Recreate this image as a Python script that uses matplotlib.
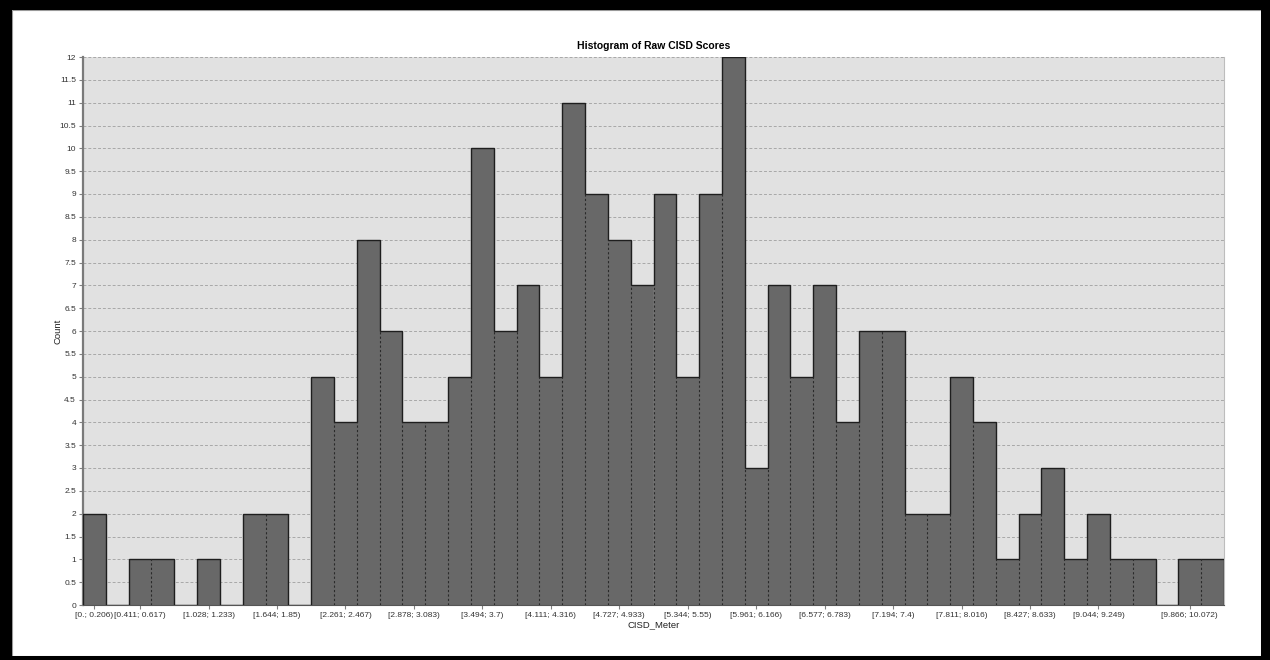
import numpy as np
import matplotlib
matplotlib.use("Agg")
import matplotlib.pyplot as plt
from matplotlib.patches import Rectangle

plt.rcParams['font.family'] = ['Liberation Sans', 'DejaVu Sans']

# histogram counts per bin (50 bins of equal width starting at 0)
counts = [2, 0, 1, 1, 0, 1, 0, 2, 2, 0,
          5, 4, 8, 6, 4, 4, 5, 10, 6, 7,
          5, 11, 9, 8, 7, 9, 5, 9, 12, 3,
          7, 5, 7, 4, 6, 6, 2, 2, 5, 4,
          1, 2, 3, 1, 2, 1, 1, 0, 1, 1]
bin_start = 0.0
bin_width = 10.072 / 49

# labelled bins and their interval text
label_bins = [0, 2, 5, 8, 11, 14, 17, 20, 23, 26, 29, 32, 35, 38, 41, 44, 48]
label_text = ["[0.; 0.206)", "[0.411; 0.617)", "[1.028; 1.233)", "[1.644; 1.85)",
              "[2.261; 2.467)", "[2.878; 3.083)", "[3.494; 3.7)", "[4.111; 4.316)",
              "[4.727; 4.933)", "[5.344; 5.55)", "[5.961; 6.166)", "[6.577; 6.783)",
              "[7.194; 7.4)", "[7.811; 8.016)", "[8.427; 8.633)", "[9.044; 9.249)",
              "[9.866; 10.072)"]

counts = np.array(counts)
edges = bin_start + bin_width * np.arange(len(counts) + 1)
centers = (edges[:-1] + edges[1:]) / 2

fig = plt.figure(figsize=(12.7, 6.6), dpi=100)
W, H = 1270, 660

# black frame around the whole picture
frame = [(0, 0, W, 4), (0, H - 10, W, 10), (0, 0, 12, H), (W - 9, 0, 9, H)]
for x, y, w, h in frame:
    fig.patches.append(Rectangle((x / W, y / H), w / W, h / H, transform=fig.transFigure,
                                 facecolor='black', edgecolor='none', zorder=10))
fig.patches.append(Rectangle((12 / W, 4 / H), (W - 21) / W, (H - 14) / H, transform=fig.transFigure,
                             facecolor='none', edgecolor='#9a9a9a', lw=0.8, zorder=9))

ax = fig.add_axes([83 / W, 1 - 605 / H, (1224 - 83) / W, (605 - 57) / H])
ax.set_facecolor('#e1e1e1')

ax.bar(centers, counts, width=bin_width, color='#686868', edgecolor='#686868', lw=0.6, zorder=2)
ax.stairs(counts, edges, baseline=0, color='#1e1e1e', lw=1.0, zorder=3)
for i in range(1, len(counts)):
    h = min(counts[i - 1], counts[i])
    if h > 0:
        ax.vlines(edges[i], 0, h, colors='#2a2a2a', linestyles=(0, (2, 2)), lw=0.8, zorder=3)

ax.set_xlim(edges[0], edges[-1])
ax.set_ylim(0, 12)
yt = np.arange(0, 12.01, 0.5)
ax.set_yticks(yt)
ax.set_yticklabels([f"{v:g}" for v in yt])
ax.set_xticks(centers[label_bins])
ax.set_xticklabels(label_text)
ax.grid(axis='y', color='#a8a8a8', linestyle=(0, (3, 2)), lw=0.7, zorder=1)
ax.set_axisbelow(True)

ax.tick_params(axis='both', labelsize=6, colors='#333333', length=3, width=0.8, pad=2)
ax.tick_params(axis='both', color='#808080')
ax.spines['top'].set_visible(False)
ax.spines['left'].set_color('#7a7a7a')
ax.spines['left'].set_linewidth(1.6)
ax.spines['right'].set_color('#bdbdbd')
ax.spines['right'].set_linewidth(0.8)
ax.spines['bottom'].set_color('#555555')
ax.spines['bottom'].set_linewidth(0.8)

ax.set_title("Histogram of Raw CISD Scores", fontsize=7.5, fontweight='bold', pad=6)
ax.set_xlabel("CISD_Meter", fontsize=6.8, labelpad=1, color='#222222')
ax.set_ylabel("Count", fontsize=6.8, labelpad=-2, color='#222222')

fig.savefig("out.png", dpi=100)
